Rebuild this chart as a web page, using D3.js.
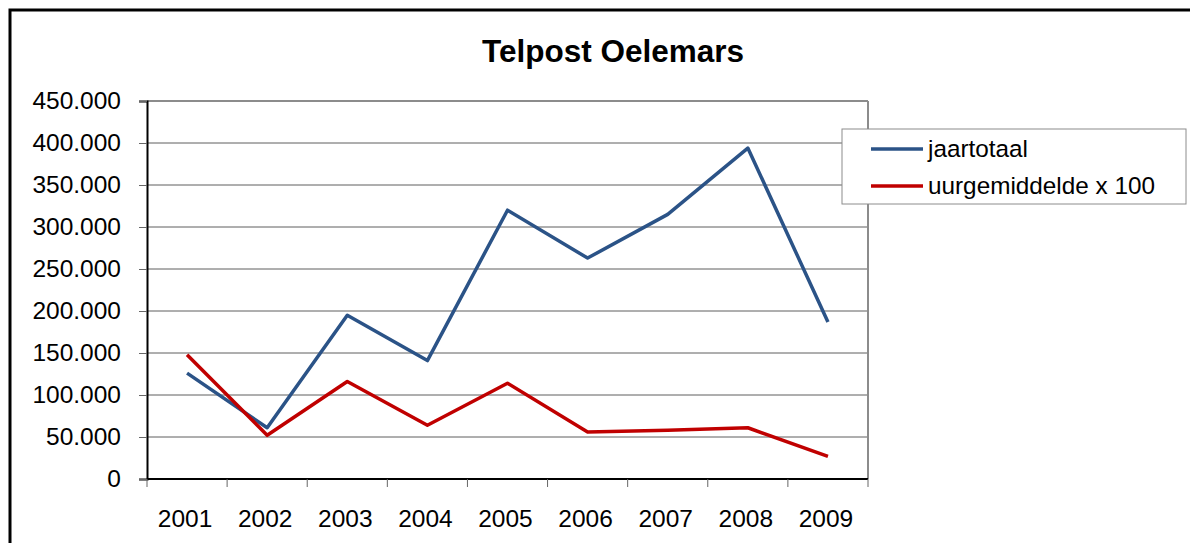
<!DOCTYPE html>
<html>
<head>
<meta charset="utf-8">
<script src="https://cdn.jsdelivr.net/npm/d3@7"></script>
<style>
  body { margin: 0; background: #fff; }
  svg { font-family: "Liberation Sans", Arial, sans-serif; }
</style>
</head>
<body>
<svg id="svg" width="1190" height="543"></svg>
<script>
const years = ["2001", "2002", "2003", "2004", "2005", "2006", "2007", "2008", "2009"];
const jaartotaal = [126000, 61000, 195000, 141000, 320000, 263000, 315000, 394000, 187000];
const uurgemiddelde = [148000, 52000, 116000, 64000, 114000, 56000, 58000, 61000, 27000];
const yTicks = [0, 50000, 100000, 150000, 200000, 250000, 300000, 350000, 400000, 450000];
const seriesNames = ["jaartotaal", "uurgemiddelde x 100"];
const colors = ["#2b5387", "#c00000"];

const svg = d3.select("#svg");

// outer frame (runs off the right/bottom edge)
svg.append("rect")
  .attr("x", 10).attr("y", 10)
  .attr("width", 1200).attr("height", 560)
  .attr("fill", "#fff").attr("stroke", "#000").attr("stroke-width", 3);

const plotLeft = 147, plotRight = 868, plotTop = 101, plotBottom = 479;

const x = d3.scaleBand().domain(years).range([plotLeft, plotRight]);
const y = d3.scaleLinear().domain([0, 450000]).range([plotBottom, plotTop]);

const fmt = (v) => v === 0 ? "0" : d3.format(",")(v).replace(/,/g, ".");

// title
svg.append("text")
  .attr("x", 613).attr("y", 62)
  .attr("text-anchor", "middle")
  .style("font-size", "31.5px").style("font-weight", "bold")
  .text("Telpost Oelemars");

// gridlines
svg.append("g")
  .selectAll("line")
  .data(yTicks.filter((d) => d > 0))
  .enter()
  .append("line")
  .attr("x1", plotLeft).attr("x2", plotRight)
  .attr("y1", (d) => y(d)).attr("y2", (d) => y(d))
  .attr("stroke", (d) => d === 450000 ? "#8c8c8c" : "#5e5e5e")
  .attr("stroke-width", (d) => d === 450000 ? 2 : 1);

// right border of plot area
svg.append("line")
  .attr("x1", plotRight).attr("x2", plotRight)
  .attr("y1", plotTop).attr("y2", plotBottom)
  .attr("stroke", "#8c8c8c").attr("stroke-width", 2);

// y axis
const yAxis = svg.append("g")
  .attr("transform", `translate(${plotLeft},0)`)
  .call(d3.axisLeft(y).tickValues(yTicks).tickFormat(fmt).tickSize(8).tickPadding(18));
yAxis.select(".domain").attr("stroke", "#000").attr("stroke-width", 2);
yAxis.selectAll(".tick line").attr("stroke", "#666");
yAxis.selectAll("text")
  .style("font-size", "24.5px").style("font-family", "Liberation Sans, Arial, sans-serif")
  .attr("fill", "#000");

// x axis: ticks at category boundaries
svg.append("line")
  .attr("x1", plotLeft).attr("x2", plotRight)
  .attr("y1", plotBottom).attr("y2", plotBottom)
  .attr("stroke", "#000").attr("stroke-width", 2);
svg.append("g")
  .selectAll("line")
  .data(years.concat(["end"]))
  .enter()
  .append("line")
  .attr("x1", (d, i) => plotLeft + i * x.bandwidth())
  .attr("x2", (d, i) => plotLeft + i * x.bandwidth())
  .attr("y1", plotBottom).attr("y2", plotBottom + 8)
  .attr("stroke", "#666");
svg.append("g")
  .selectAll("text")
  .data(years)
  .enter()
  .append("text")
  .attr("x", (d) => x(d) + x.bandwidth() / 2 - 2)
  .attr("y", 527)
  .attr("text-anchor", "middle")
  .style("font-size", "24.5px")
  .text((d) => d);

// lines
const line = d3.line()
  .x((d, i) => x(years[i]) + x.bandwidth() / 2)
  .y((d) => y(d));

[jaartotaal, uurgemiddelde].forEach((vals, i) => {
  svg.append("path")
    .datum(vals)
    .attr("fill", "none")
    .attr("stroke", colors[i])
    .attr("stroke-width", 3.5)
    .attr("stroke-linejoin", "round")
    .attr("d", line);
});

// legend
const legend = svg.append("g");
legend.append("rect")
  .attr("x", 842).attr("y", 129)
  .attr("width", 344).attr("height", 75)
  .attr("fill", "#fff").attr("stroke", "#8c8c8c").attr("stroke-width", 1);
seriesNames.forEach((name, i) => {
  const ly = 149 + i * 37;
  legend.append("line")
    .attr("x1", 871).attr("x2", 923)
    .attr("y1", ly).attr("y2", ly)
    .attr("stroke", colors[i]).attr("stroke-width", 3.5);
  legend.append("text")
    .attr("x", 928).attr("y", ly + 8)
    .style("font-size", "24.3px")
    .text(name);
});
</script>
</body>
</html>
